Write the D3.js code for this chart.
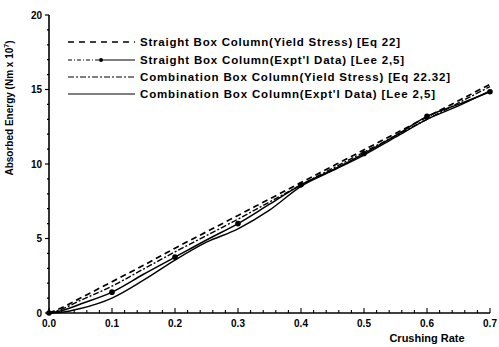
<!DOCTYPE html>
<html>
<head>
<meta charset="utf-8">
<script src="https://cdn.jsdelivr.net/npm/d3@7"></script>
<style>
  body { margin: 0; background: #fff; }
  text { font-family: "Liberation Sans", Arial, sans-serif; fill: #000; }
</style>
</head>
<body>
<svg id="chart" width="499" height="347"></svg>
<script>
// crushing rate samples and absorbed energy (Nm x 10^7)
const crushRate = [0, 0.02, 0.05, 0.1, 0.15, 0.2, 0.25, 0.3, 0.35, 0.4, 0.45, 0.5, 0.55, 0.6, 0.65, 0.7];
const straightYield = [0, 0.35, 1.0, 2.1, 3.2, 4.35, 5.45, 6.55, 7.65, 8.75, 9.85, 10.95, 12.05, 13.15, 14.25, 15.35];
const straightExpt = [0, 0.15, 0.6, 1.4, 2.6, 3.75, 4.9, 6.0, 7.3, 8.6, 9.6, 10.7, 11.9, 13.2, 14.0, 14.85];
const comboYield = [0, 0.25, 0.85, 1.8, 2.95, 4.1, 5.2, 6.3, 7.45, 8.6, 9.7, 10.8, 11.9, 13.0, 14.1, 15.2];
const comboExpt = [0, 0.05, 0.3, 1.0, 2.2, 3.55, 4.75, 5.65, 6.9, 8.5, 9.55, 10.6, 11.8, 13.0, 13.9, 14.9];

const xTicks = [0, 0.1, 0.2, 0.3, 0.4, 0.5, 0.6, 0.7];
const yTicks = [0, 5, 10, 15, 20];

const legendLabels = [
  "Straight Box Column(Yield Stress) [Eq 22]",
  "Straight Box Column(Expt'l Data) [Lee 2,5]",
  "Combination Box Column(Yield Stress) [Eq 22.32]",
  "Combination Box Column(Expt'l Data) [Lee 2,5]"
];

const svg = d3.select('#chart');
const x = d3.scaleLinear().domain([0, 0.7]).range([49, 490]);
const y = d3.scaleLinear().domain([0, 20]).range([313, 15]);

// axes
svg.append('line').attr('x1', x(0)).attr('x2', x(0)).attr('y1', y(20)).attr('y2', y(0))
  .attr('stroke', '#000').attr('stroke-width', 1.6);
svg.append('line').attr('x1', x(0)).attr('x2', x(0.7)).attr('y1', y(0)).attr('y2', y(0))
  .attr('stroke', '#000').attr('stroke-width', 1.4);

// y ticks: major every 5, minor every 1, pointing left
d3.range(0, 21, 1).forEach(function (v) {
  let major = v % 5 === 0;
  svg.append('line').attr('x1', x(0) - (major ? 4 : 2)).attr('x2', x(0))
    .attr('y1', y(v)).attr('y2', y(v)).attr('stroke', '#000').attr('stroke-width', 1.2);
});
svg.selectAll('.ylab').data(yTicks).enter().append('text')
  .attr('x', x(0) - 7).attr('y', d => y(d) + 3.5)
  .attr('text-anchor', 'end').attr('font-size', 10).attr('font-weight', 'bold')
  .text(d => d);

// x ticks: major every 0.1, minor every 0.02, pointing up
d3.range(0, 36, 1).forEach(function (i) {
  let v = i * 0.02;
  let major = i % 5 === 0;
  svg.append('line').attr('x1', x(v)).attr('x2', x(v))
    .attr('y1', y(0)).attr('y2', y(0) - (major ? 5 : 3)).attr('stroke', '#000').attr('stroke-width', 1.1);
});
svg.selectAll('.xlab').data(xTicks).enter().append('text')
  .attr('x', d => x(d)).attr('y', y(0) + 14)
  .attr('text-anchor', 'middle').attr('font-size', 10).attr('font-weight', 'bold')
  .text(d => d.toFixed(1));

// axis titles
svg.append('text').attr('x', 427).attr('y', 342).attr('text-anchor', 'middle')
  .attr('font-size', 11).attr('font-weight', 'bold').text('Crushing Rate');
let yt = svg.append('text').attr('transform', 'translate(13,108) rotate(-90)')
  .attr('text-anchor', 'middle').attr('font-size', 10).attr('font-weight', 'bold');
yt.append('tspan').text('Absorbed Energy (Nm x 10');
yt.append('tspan').attr('font-size', 7).attr('dy', -4).text('7');
yt.append('tspan').attr('dy', 4).text(')');

// curves
const line = d3.line().x(d => x(d[0])).y(d => y(d[1])).curve(d3.curveMonotoneX);
const series = [
  {values: straightYield, dash: '6,4', width: 1.7},
  {values: straightExpt, dash: null, width: 1.5},
  {values: comboYield, dash: '6,2,2,2', width: 1.4},
  {values: comboExpt, dash: null, width: 1.4}
];
series.forEach(function (s) {
  svg.append('path').datum(crushRate.map((c, i) => [c, s.values[i]]))
    .attr('d', line).attr('fill', 'none').attr('stroke', '#000')
    .attr('stroke-width', s.width).attr('stroke-dasharray', s.dash);
});
// markers on straight expt data at every 0.1
svg.selectAll('.mark').data(crushRate.map((c, i) => [c, straightExpt[i]])
    .filter(d => Math.abs(Math.round(d[0] * 10) - d[0] * 10) < 1e-6))
  .enter().append('circle')
  .attr('cx', d => x(d[0])).attr('cy', d => y(d[1])).attr('r', 2.8).attr('fill', '#000');

// legend
const legY = [42, 60, 77, 94];
const legLen = [260, 264, 310, 295];
legendLabels.forEach(function (lab, i) {
  let yy = legY[i];
  if (i === 0) {
    svg.append('line').attr('x1', 68).attr('x2', 135).attr('y1', yy).attr('y2', yy)
      .attr('stroke', '#000').attr('stroke-width', 1.3).attr('stroke-dasharray', '6,5');
  } else if (i === 1) {
    svg.append('line').attr('x1', 68).attr('x2', 100).attr('y1', yy).attr('y2', yy)
      .attr('stroke', '#000').attr('stroke-width', 1).attr('stroke-dasharray', '4,2,1,2');
    svg.append('line').attr('x1', 100).attr('x2', 135).attr('y1', yy).attr('y2', yy)
      .attr('stroke', '#000').attr('stroke-width', 1.2);
    svg.append('circle').attr('cx', 101).attr('cy', yy).attr('r', 2).attr('fill', '#000');
  } else if (i === 2) {
    svg.append('line').attr('x1', 68).attr('x2', 135).attr('y1', yy).attr('y2', yy)
      .attr('stroke', '#000').attr('stroke-width', 1.2).attr('stroke-dasharray', '6,2,2,2');
  } else {
    svg.append('line').attr('x1', 68).attr('x2', 135).attr('y1', yy).attr('y2', yy)
      .attr('stroke', '#000').attr('stroke-width', 1.2);
  }
  svg.append('text').attr('x', 140).attr('y', yy + 4).attr('font-size', 11.5)
    .attr('font-weight', 'bold').attr('textLength', legLen[i]).attr('lengthAdjust', 'spacing')
    .text(lab);
});
</script>
</body>
</html>
